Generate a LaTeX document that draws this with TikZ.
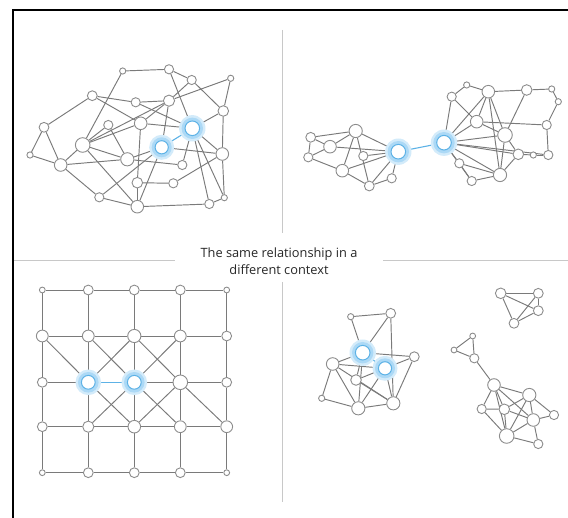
\documentclass[tikz,border=0pt]{standalone}
\usepackage{fontspec}
\setmainfont{Open Sans}
\definecolor{ndgray}{HTML}{8C8C8C}
\definecolor{edgray}{HTML}{7A7A7A}
\definecolor{divgray}{HTML}{C8C8C8}
\definecolor{txtgray}{HTML}{262626}
\definecolor{bluec}{HTML}{5DB2E6}
\definecolor{haloA}{HTML}{D3EBFA}
\definecolor{haloB}{HTML}{ACD9F6}
\pgfdeclarelayer{bg}
\pgfdeclarelayer{halo}
\pgfsetlayers{bg,halo,main}
\tikzset{
  nd/.style={circle,draw=ndgray,fill=white,inner sep=0pt,line width=0.9pt},
  bnd/.style={circle,draw=bluec,fill=white,inner sep=0pt,line width=1pt},
  edge/.style={draw=edgray,line width=0.95pt},
  bedge/.style={draw=bluec,line width=1.1pt},
  divline/.style={draw=divgray,line width=0.9pt},
  frameline/.style={draw=black,line width=2pt}
}
\newcommand\nd[4]{\node[nd,minimum size={#4pt+1.2pt}] (#1) at (#2,#3) {};}
\newcommand\bnd[4]{\node[bnd,minimum size={#4pt+1.2pt}] (#1) at (#2,#3) {};
  \begin{pgfonlayer}{halo}
  \fill[haloA] (#1.center) circle ({#4/2+6.5});
  \fill[haloB] (#1.center) circle ({#4/2+4});
  \end{pgfonlayer}}
\newcommand\edges[1]{\begin{pgfonlayer}{bg}\foreach \a/\b in {#1} \draw[edge] (\a) -- (\b);\end{pgfonlayer}}
\begin{document}
\begin{tikzpicture}[x=1pt,y=-1pt]
\useasboundingbox (0,0) rectangle (568,518);
% frame and dividers
\draw[frameline] (13,518) -- (13,10) -- (568,10);
\draw[divline] (282,30) -- (282,233);
\draw[divline] (282,282) -- (282,502);
\draw[divline] (14,260) -- (175,260);
\draw[divline] (383,260) -- (568,260);
\node[font=\fontsize{12.8}{17}\selectfont,align=center,text=txtgray] (title) at (279,261.5) {The same relationship in a\\different context};

% ---------- top-left graph ----------
\nd{pA}{122.7}{71}{5}
\nd{pB}{169}{69.3}{8}
\nd{pC}{191.7}{80}{8}
\nd{pD}{230.7}{78.3}{5}
\nd{pE}{92.3}{95.7}{8.6}
\nd{pF}{135.7}{102.3}{8}
\nd{pG}{169}{100.7}{10}
\nd{pH}{223.3}{111}{9.4}
\nd{pI}{44}{127.3}{8.6}
\nd{pJ}{108.3}{125}{8}
\nd{pK}{140.7}{123.3}{11.4}
\bnd{pL}{192.3}{128.3}{13.4}
\nd{pM}{82.7}{145}{13.4}
\bnd{pN}{161.7}{147.3}{12}
\nd{pO}{30}{155}{5}
\nd{pP}{60.7}{165}{11.4}
\nd{pQ}{127.3}{159.3}{12}
\nd{pR}{222.3}{154}{11.4}
\nd{pS}{182.3}{165}{8}
\nd{pT}{137.3}{182.7}{9.4}
\nd{pU}{173.3}{183.3}{8}
\nd{pV}{99.3}{197.3}{8}
\nd{pW}{137.3}{206.7}{11.4}
\nd{pX}{209.3}{204}{8}
\nd{pY}{224.3}{197.7}{5}
\edges{pA/pB,pA/pM,pB/pC,pB/pL,pC/pH,pC/pG,pD/pG,pD/pH,pE/pF,pE/pI,pE/pK,
  pF/pG,pF/pL,pG/pK,pG/pM,pG/pN,pH/pL,pH/pR,pI/pO,pI/pP,pO/pP,pJ/pM,pJ/pQ,
  pK/pL,pK/pM,pK/pT,pM/pP,pM/pQ,pM/pW,pN/pQ,pN/pR,pN/pW,pP/pQ,pQ/pS,
  pP/pV,pV/pW,pV/pN,pT/pU,pU/pR,pW/pX,pX/pY,pY/pR,pT/pW,pL/pR,pL/pS,pL/pX,pL/pY}
\begin{pgfonlayer}{bg}\draw[bedge] (pL) -- (pN);\end{pgfonlayer}

% ---------- top-right graph ----------
\nd{qa1}{310.7}{137.3}{8.6}
\nd{qa2}{330}{146.7}{11.4}
\nd{qa3}{355.7}{131}{12}
\nd{qa4}{308.3}{157.3}{8}
\nd{qa5}{363.3}{156}{8}
\nd{qa6}{342.3}{170.7}{11.4}
\nd{qa7}{391.7}{178.3}{8}
\nd{qa8}{369.3}{186}{8.6}
\bnd{qL}{398.3}{151.7}{13.4}
\bnd{qR}{444}{142.7}{13.4}
\nd{qb1}{451.7}{96.7}{8}
\nd{qb2}{466.7}{85}{5}
\nd{qb3}{488.3}{91.7}{11.4}
\nd{qb4}{526.7}{90}{9.4}
\nd{qb5}{551.7}{89}{5}
\nd{qb6}{558.3}{101.7}{5}
\nd{qb7}{476.7}{121.7}{11.4}
\nd{qb8}{546.7}{125}{8}
\nd{qb9}{505}{135}{13.4}
\nd{qb10}{518.3}{154.3}{9.4}
\nd{qb11}{533.3}{155}{5}
\nd{qb12}{548.3}{155}{8}
\nd{qb13}{459.3}{163.3}{8}
\nd{qb14}{471.7}{181}{8}
\nd{qb15}{500}{175}{12}
\edges{qa1/qa3,qa1/qa4,qa1/qa2,qa2/qa4,qa2/qa3,qa2/qL,qa3/qL,qa3/qa6,qa4/qa6,
  qa6/qL,qa5/qL,qa6/qa8,qa8/qa7,qa7/qL,qa8/qL,qa3/qa8,
  qR/qb1,qR/qb3,qR/qb7,qR/qb9,qR/qb10,qR/qb12,qR/qb13,qR/qb15,qR/qb14,
  qb1/qb2,qb2/qb3,qb1/qb7,qb3/qb4,qb4/qb5,qb5/qb6,qb6/qb8,qb8/qb12,qb4/qb9,
  qb3/qb7,qb3/qb9,qb3/qb15,qb7/qb8,qb7/qb9,qb9/qb10,qb9/qb15,qb10/qb11,
  qb11/qb12,qb13/qb14,qb13/qb15,qb14/qb15,qb10/qb15}
\begin{pgfonlayer}{bg}\draw[bedge] (qL) -- (qR);\end{pgfonlayer}

% ---------- bottom-left grid ----------
\nd{g00}{42.3}{290}{4.6}
\nd{g10}{88.3}{290}{8.6}
\nd{g20}{134.3}{290}{8.6}
\nd{g30}{180.3}{290}{8.6}
\nd{g40}{226.7}{290}{4.6}
\nd{g01}{42.3}{336}{10.6}
\nd{g11}{88.3}{336}{10.6}
\nd{g21}{134.3}{336}{12}
\nd{g31}{180.3}{336}{10.6}
\nd{g41}{226.7}{336}{8.6}
\nd{g02}{42.3}{382.3}{8.6}
\bnd{g12}{88.3}{382.3}{12.6}
\bnd{g22}{134.3}{382.3}{12.6}
\nd{g32}{180.3}{382.3}{13.4}
\nd{g42}{226.7}{382.3}{8.6}
\nd{g03}{42.3}{426.7}{8.6}
\nd{g13}{88.3}{426.7}{10}
\nd{g23}{134.3}{426.7}{11.4}
\nd{g33}{180.3}{426.7}{10.6}
\nd{g43}{226.7}{426.7}{10.6}
\nd{g04}{42.3}{472.7}{4.6}
\nd{g14}{88.3}{472.7}{8.6}
\nd{g24}{134.3}{472.7}{8.6}
\nd{g34}{180.3}{472.7}{8.6}
\nd{g44}{226.7}{472.7}{4.6}
\edges{g00/g10,g10/g20,g20/g30,g30/g40,g01/g11,g11/g21,g21/g31,g31/g41,
  g02/g12,g22/g32,g32/g42,g03/g13,g13/g23,g23/g33,g33/g43,
  g04/g14,g14/g24,g24/g34,g34/g44,
  g00/g01,g01/g02,g02/g03,g03/g04,g10/g11,g11/g12,g12/g13,g13/g14,
  g20/g21,g21/g22,g22/g23,g23/g24,g30/g31,g31/g32,g32/g33,g33/g34,
  g40/g41,g41/g42,g42/g43,g43/g44,
  g01/g12,g11/g22,g21/g12,g12/g23,g22/g13,g21/g32,g31/g22,g22/g33,g32/g23,g32/g43}
\begin{pgfonlayer}{bg}\draw[bedge] (g12) -- (g22);\end{pgfonlayer}

% ---------- bottom-right graphs ----------
\nd{c1}{350.7}{316.7}{5}
\nd{c2}{390.7}{313.3}{8.6}
\bnd{c3}{362.7}{352.7}{13.4}
\bnd{c4}{385}{368.3}{12}
\nd{c5}{414.3}{356.7}{8.6}
\nd{c6}{332.7}{364}{11.4}
\nd{c7}{356}{380}{9.4}
\nd{c8}{321.7}{398.3}{5}
\nd{c9}{358.3}{408.3}{12}
\nd{c10}{393.3}{403.3}{12}
\edges{c1/c2,c1/c3,c2/c3,c2/c10,c3/c5,c3/c6,c3/c7,c3/c9,c4/c5,c4/c6,c4/c7,
  c4/c9,c4/c10,c5/c10,c6/c8,c6/c9,c6/c10,c8/c9,c9/c10,c7/c10}
\begin{pgfonlayer}{bg}\draw[bedge] (c3) -- (c4);\end{pgfonlayer}

\nd{d1}{500.7}{293.3}{9.4}
\nd{d2}{538.3}{293.3}{8.6}
\nd{d3}{538.3}{310.7}{8.6}
\nd{d4}{514}{323.3}{8.6}
\edges{d1/d2,d1/d3,d1/d4,d2/d3,d2/d4,d3/d4}

\nd{e1}{472.7}{336}{4.6}
\nd{e2}{454}{350}{4.6}
\nd{e3}{474.3}{358.3}{8}
\nd{f1}{494}{385}{11.4}
\nd{f2}{529.3}{395}{12}
\nd{f3}{481.7}{409}{8}
\nd{f4}{504.3}{409.3}{9.4}
\nd{f5}{554}{415}{8}
\nd{f6}{533.3}{420}{11.4}
\nd{f7}{506.7}{436}{13.4}
\nd{f8}{538.3}{444}{8}
\edges{e1/e2,e1/e3,e2/e3,e3/f1,f1/f2,f1/f3,f1/f4,f1/f6,f1/f7,f2/f4,f2/f5,
  f2/f6,f2/f7,f3/f4,f3/f7,f4/f6,f4/f7,f5/f6,f6/f7,f6/f8,f7/f8}
\end{tikzpicture}
\end{document}
